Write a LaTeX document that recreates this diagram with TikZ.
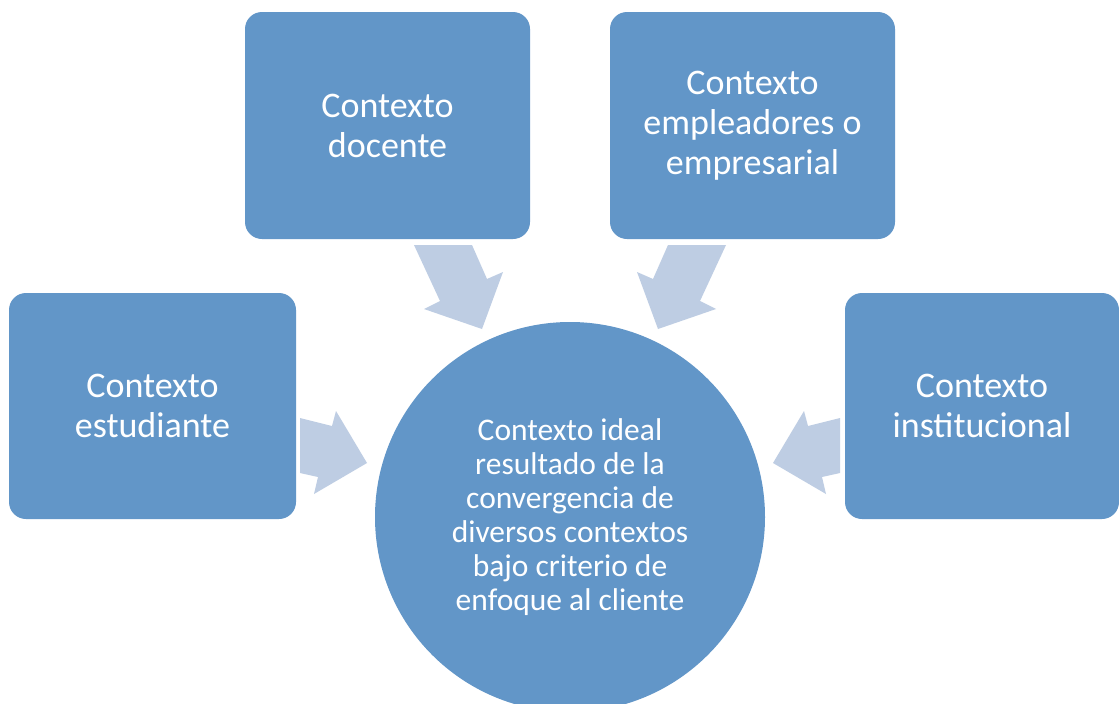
\documentclass[tikz,border=0pt]{standalone}
\usepackage{fontspec}
\setmainfont{Carlito}
\usepackage{tikz}

\definecolor{boxblue}{RGB}{98,150,200}
\definecolor{arrowblue}{RGB}{190,205,227}

\begin{document}
\begin{tikzpicture}[x=1pt, y=-1pt,
    ctxbox/.style={rectangle, rounded corners=17pt, fill=boxblue, text=white, align=center,
        inner sep=0pt, font=\fontsize{36}{40}\selectfont},
    idealcirc/.style={circle, fill=boxblue, text=white, align=center, minimum size=390pt,
        inner sep=0pt, font=\fontsize{31.5}{34}\selectfont},
    convarrow/.style={fill=arrowblue}]
                \clip (0,0) rectangle (1119,704);
                \fill[white] (0,0) rectangle (1119,704);
                % context boxes
                \node[ctxbox, minimum width=285pt, minimum height=227pt] (docente) at (387.5,125.5) {Contexto\\docente};
                \node[ctxbox, minimum width=285pt, minimum height=227pt] (empleadores) at (752.5,125.5) {Contexto\\empleadores o\\empresarial};
                \node[ctxbox, minimum width=287pt, minimum height=226pt] (estudiante) at (152.5,406) {Contexto\\estudiante};
                \node[ctxbox, minimum width=274pt, minimum height=226pt] (institucional) at (982,406) {Contexto\\institucional};
                % converging arrows
                \fill[convarrow] (414,245) -- (472,245) -- (487,279) -- (503,272) -- (482,329) -- (424,309) -- (440,301) -- cycle;
                \fill[convarrow] (726,245) -- (668,245) -- (653,279) -- (637,272) -- (658,329) -- (716,309) -- (700,301) -- cycle;
                \fill[convarrow] (300,418) -- (332,426) -- (336,411) -- (367,463) -- (314,494) -- (318,477) -- (300,473) -- cycle;
                \fill[convarrow] (840,418) -- (808,426) -- (804,411) -- (773,463) -- (826,494) -- (822,477) -- (840,473) -- cycle;
                % ideal context
                \node[idealcirc] (ideal) at (570,517) {Contexto ideal\\resultado de la\\convergencia de\\diversos contextos\\bajo criterio de\\enfoque al cliente};
            \end{tikzpicture}
\end{document}
